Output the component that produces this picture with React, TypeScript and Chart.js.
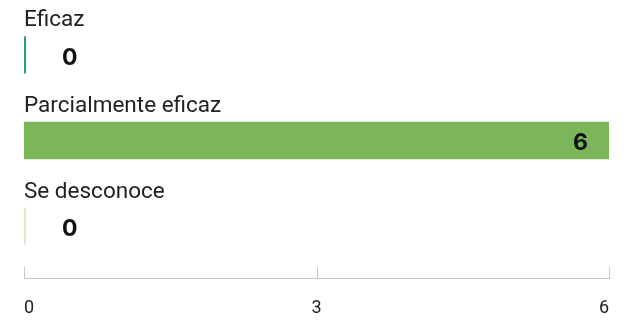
import React, { useEffect, useRef } from "react";
import { Chart, registerables } from "chart.js";

Chart.register(...registerables);

const categories = ["Eficaz", "Parcialmente eficaz", "Se desconoce"];
const values = [0, 6, 0];
const barColors = ["#2f9e76", "#7bb65a", "#d9ebcc"];
const xTickValues = [0, 3, 6];

const FONT = "Roboto, 'Noto Sans', sans-serif";
const VALUE_FONT = "Inter, Roboto, sans-serif";

const overlayPlugin = {
  id: "overlay",
  afterDatasetsDraw(chart: any) {
    const ctx = chart.ctx;
    const meta = chart.getDatasetMeta(0);
    const xs = chart.scales.x;
    ctx.save();
    meta.data.forEach((bar: any, i: number) => {
      const { x, y, base, height } = bar.getProps(["x", "y", "base", "height"], true);
      const top = y - height / 2;
      if (Math.abs(x - base) < 1) {
        ctx.strokeStyle = barColors[i];
        ctx.lineWidth = 2;
        ctx.beginPath();
        ctx.moveTo(base + 1, top);
        ctx.lineTo(base + 1, top + height);
        ctx.stroke();
      }
      ctx.fillStyle = "#222";
      ctx.font = `400 22.5px ${FONT}`;
      ctx.textAlign = "left";
      ctx.textBaseline = "alphabetic";
      ctx.fillText(categories[i], xs.left, top - 10);

      ctx.font = `700 23px ${VALUE_FONT}`;
      ctx.fillStyle = "#111";
      ctx.textBaseline = "middle";
      const txt = String(values[i]);
      const w = ctx.measureText(txt).width;
      if (x - base > w + 40) {
        ctx.textAlign = "right";
        ctx.fillText(txt, x - 21, y + 3);
      } else {
        ctx.textAlign = "left";
        ctx.fillText(txt, base + 38, y + 3);
      }
    });
    const ay = Math.round(chart.chartArea.bottom + 9);
    ctx.strokeStyle = "#c8c8c8";
    ctx.lineWidth = 1;
    ctx.beginPath();
    const x0 = Math.round(xs.getPixelForValue(xTickValues[0]));
    const x1 = Math.round(xs.getPixelForValue(xTickValues[xTickValues.length - 1]));
    ctx.moveTo(x0, ay + 0.5);
    ctx.lineTo(x1 + 1, ay + 0.5);
    xTickValues.forEach((v) => {
      let px = Math.round(xs.getPixelForValue(v));
      if (px >= x1) px = x1;
      ctx.moveTo(px + 0.5, ay - 11);
      ctx.lineTo(px + 0.5, ay + 0.5);
    });
    ctx.stroke();
    ctx.restore();
  },
};

export default function App() {
  const canvasRef = useRef<HTMLCanvasElement | null>(null);

  useEffect(() => {
    if (!canvasRef.current) return;
    const chart = new Chart(canvasRef.current, {
      type: "bar",
      data: {
        labels: categories,
        datasets: [
          {
            data: values,
            backgroundColor: barColors,
            borderWidth: 0,
            barPercentage: 0.435,
            categoryPercentage: 1,
          },
        ],
      },
      options: {
        indexAxis: "y",
        responsive: true,
        maintainAspectRatio: false,
        animation: false,
        layout: { padding: { left: 16, right: 16, top: 4, bottom: 0 } },
        plugins: {
          legend: { display: false },
          tooltip: { enabled: false },
        },
        scales: {
          y: { display: false },
          x: {
            min: 0,
            max: 6,
            position: "bottom",
            grid: { display: false, drawTicks: false },
            border: { display: false },
            afterFit: (scale: any) => {
              scale.height = 52;
              scale.paddingLeft = 0;
              scale.paddingRight = 0;
            },
            ticks: {
              stepSize: 3,
              align: "inner",
              padding: 30,
              color: "#222",
              font: { family: FONT, size: 18, lineHeight: 1 },
            },
          },
        },
      },
      plugins: [overlayPlugin],
    });
    return () => chart.destroy();
  }, []);

  return (
    <div style={{ position: "absolute", left: 8, top: 8, width: 617, height: 313 }}>
      <canvas ref={canvasRef} />
    </div>
  );
}
